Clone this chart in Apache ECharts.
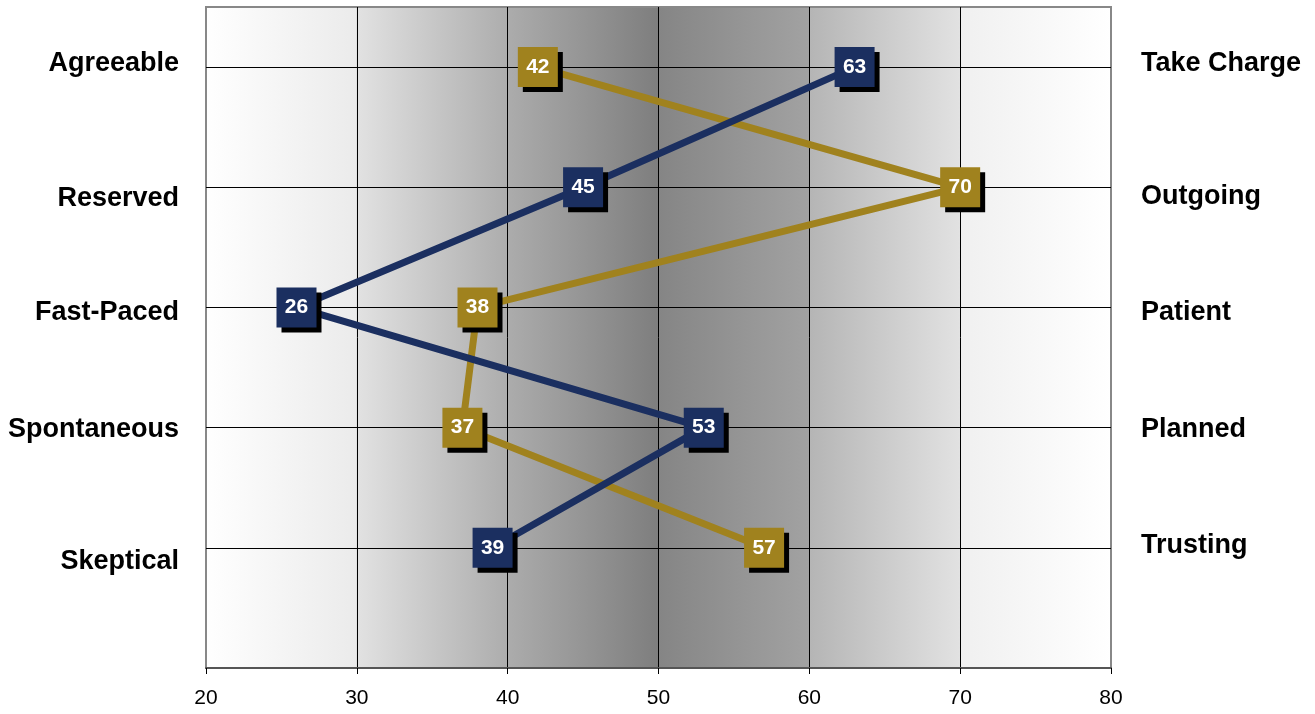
<!DOCTYPE html>
<html>
<head>
<meta charset="utf-8">
<script src="https://cdn.jsdelivr.net/npm/echarts@6/dist/echarts.min.js"></script>
<style>
  html, body { margin: 0; padding: 0; background: #fff; }
  #chart { width: 1315px; height: 714px; }
</style>
</head>
<body>
<div id="chart"></div>
<script>
// ---- data ----
const leftLabels  = ['Agreeable', 'Reserved', 'Fast-Paced', 'Spontaneous', 'Skeptical'];
const rightLabels = ['Take Charge', 'Outgoing', 'Patient', 'Planned', 'Trusting'];
const navyValues  = [63, 45, 26, 53, 39];
const goldValues  = [42, 70, 38, 37, 57];
const xMin = 20, xMax = 80, xStep = 10;

// ---- styling (label vertical nudges, px; positive = down) ----
const leftNudge  = [-4, 11, 5, 2, 14];
const rightNudge = [-4, 9, 5, 2, -2];

const FONT = "'Liberation Sans', Arial, sans-serif";
const NAVY = '#1b2f60';
const GOLD = '#a0821e';

const n = leftLabels.length;
function toPoints(vals) {
  return vals.map((v, i) => [v, n - i]);
}

function makeRich(nudges, prefix) {
  const rich = {};
  nudges.forEach((d, i) => {
    rich[prefix + i] = {
      fontFamily: FONT, fontSize: 27, fontWeight: 'bold', color: '#000',
      padding: d >= 0 ? [2 * d, 0, 0, 0] : [0, 0, -2 * d, 0]
    };
  });
  return rich;
}
function labelFormatter(labels, prefix) {
  return function (val) {
    if (Math.abs(val - Math.round(val)) > 1e-6) return '';
    const idx = n - Math.round(val);
    if (idx < 0 || idx >= n) return '';
    return '{' + prefix + idx + '|' + labels[idx] + '}';
  };
}

const bg = {
  type: 'linear', x: 0, y: 0, x2: 1, y2: 0,
  colorStops: [
    { offset: 0.0,      color: '#ffffff' },
    { offset: 0.1667,   color: '#ebebeb' },
    { offset: 0.1668,   color: '#e2e2e2' },
    { offset: 0.3333,   color: '#adadad' },
    { offset: 0.3334,   color: '#acacac' },
    { offset: 0.5,      color: '#7e7e7e' },
    { offset: 0.5001,   color: '#858585' },
    { offset: 0.6667,   color: '#a2a2a2' },
    { offset: 0.6668,   color: '#b5b5b5' },
    { offset: 0.8333,   color: '#e2e2e2' },
    { offset: 0.8334,   color: '#f0f0f0' },
    { offset: 1.0,      color: '#ffffff' }
  ]
};

function makeSeries(name, vals, color) {
  return {
    name: name,
    type: 'line',
    data: toPoints(vals),
    symbol: 'rect',
    symbolSize: 40,
    lineStyle: { color: color, width: 7 },
    itemStyle: {
      color: color,
      shadowColor: '#000',
      shadowBlur: 0,
      shadowOffsetX: 5,
      shadowOffsetY: 5
    },
    label: {
      show: true,
      position: 'inside',
      formatter: p => String(p.value[0]),
      color: '#fff',
      fontFamily: FONT,
      fontSize: 21,
      fontWeight: 'bold'
    },
    emphasis: { disabled: true },
    animation: false
  };
}

const chart = echarts.init(document.getElementById('chart'), null, { renderer: 'canvas' });
chart.setOption({
  animation: false,
  backgroundColor: '#fff',
  grid: {
    left: 206, right: 204, top: 7, bottom: 46,
    show: true,
    backgroundColor: bg,
    borderColor: '#888',
    borderWidth: 2
  },
  xAxis: {
    type: 'value',
    min: xMin, max: xMax, interval: xStep,
    axisLine: { show: true, lineStyle: { color: '#555', width: 2 } },
    axisTick: { show: true, length: 6, lineStyle: { color: '#000', width: 1 } },
    axisLabel: { color: '#000', fontFamily: FONT, fontSize: 21, margin: 20 },
    splitLine: { show: true, showMinLine: false, showMaxLine: false, lineStyle: { color: '#000', width: 1 } }
  },
  yAxis: [
    {
      type: 'value', position: 'left',
      min: 0, max: n + 0.5, interval: 1,
      axisLine: { show: false },
      axisTick: { show: false },
      axisLabel: {
        margin: 27,
        formatter: labelFormatter(leftLabels, 'l'),
        rich: makeRich(leftNudge, 'l'),
        showMaxLabel: false
      },
      splitLine: { show: true, showMinLine: false, showMaxLine: false, lineStyle: { color: '#000', width: 1 } }
    },
    {
      type: 'value', position: 'right',
      min: 0, max: n + 0.5, interval: 1,
      axisLine: { show: false },
      axisTick: { show: false },
      axisLabel: {
        margin: 30,
        formatter: labelFormatter(rightLabels, 'r'),
        rich: makeRich(rightNudge, 'r'),
        showMaxLabel: false
      },
      splitLine: { show: false }
    }
  ],
  series: [
    makeSeries('Profile B', goldValues, GOLD),
    makeSeries('Profile A', navyValues, NAVY)
  ]
});
</script>
</body>
</html>
